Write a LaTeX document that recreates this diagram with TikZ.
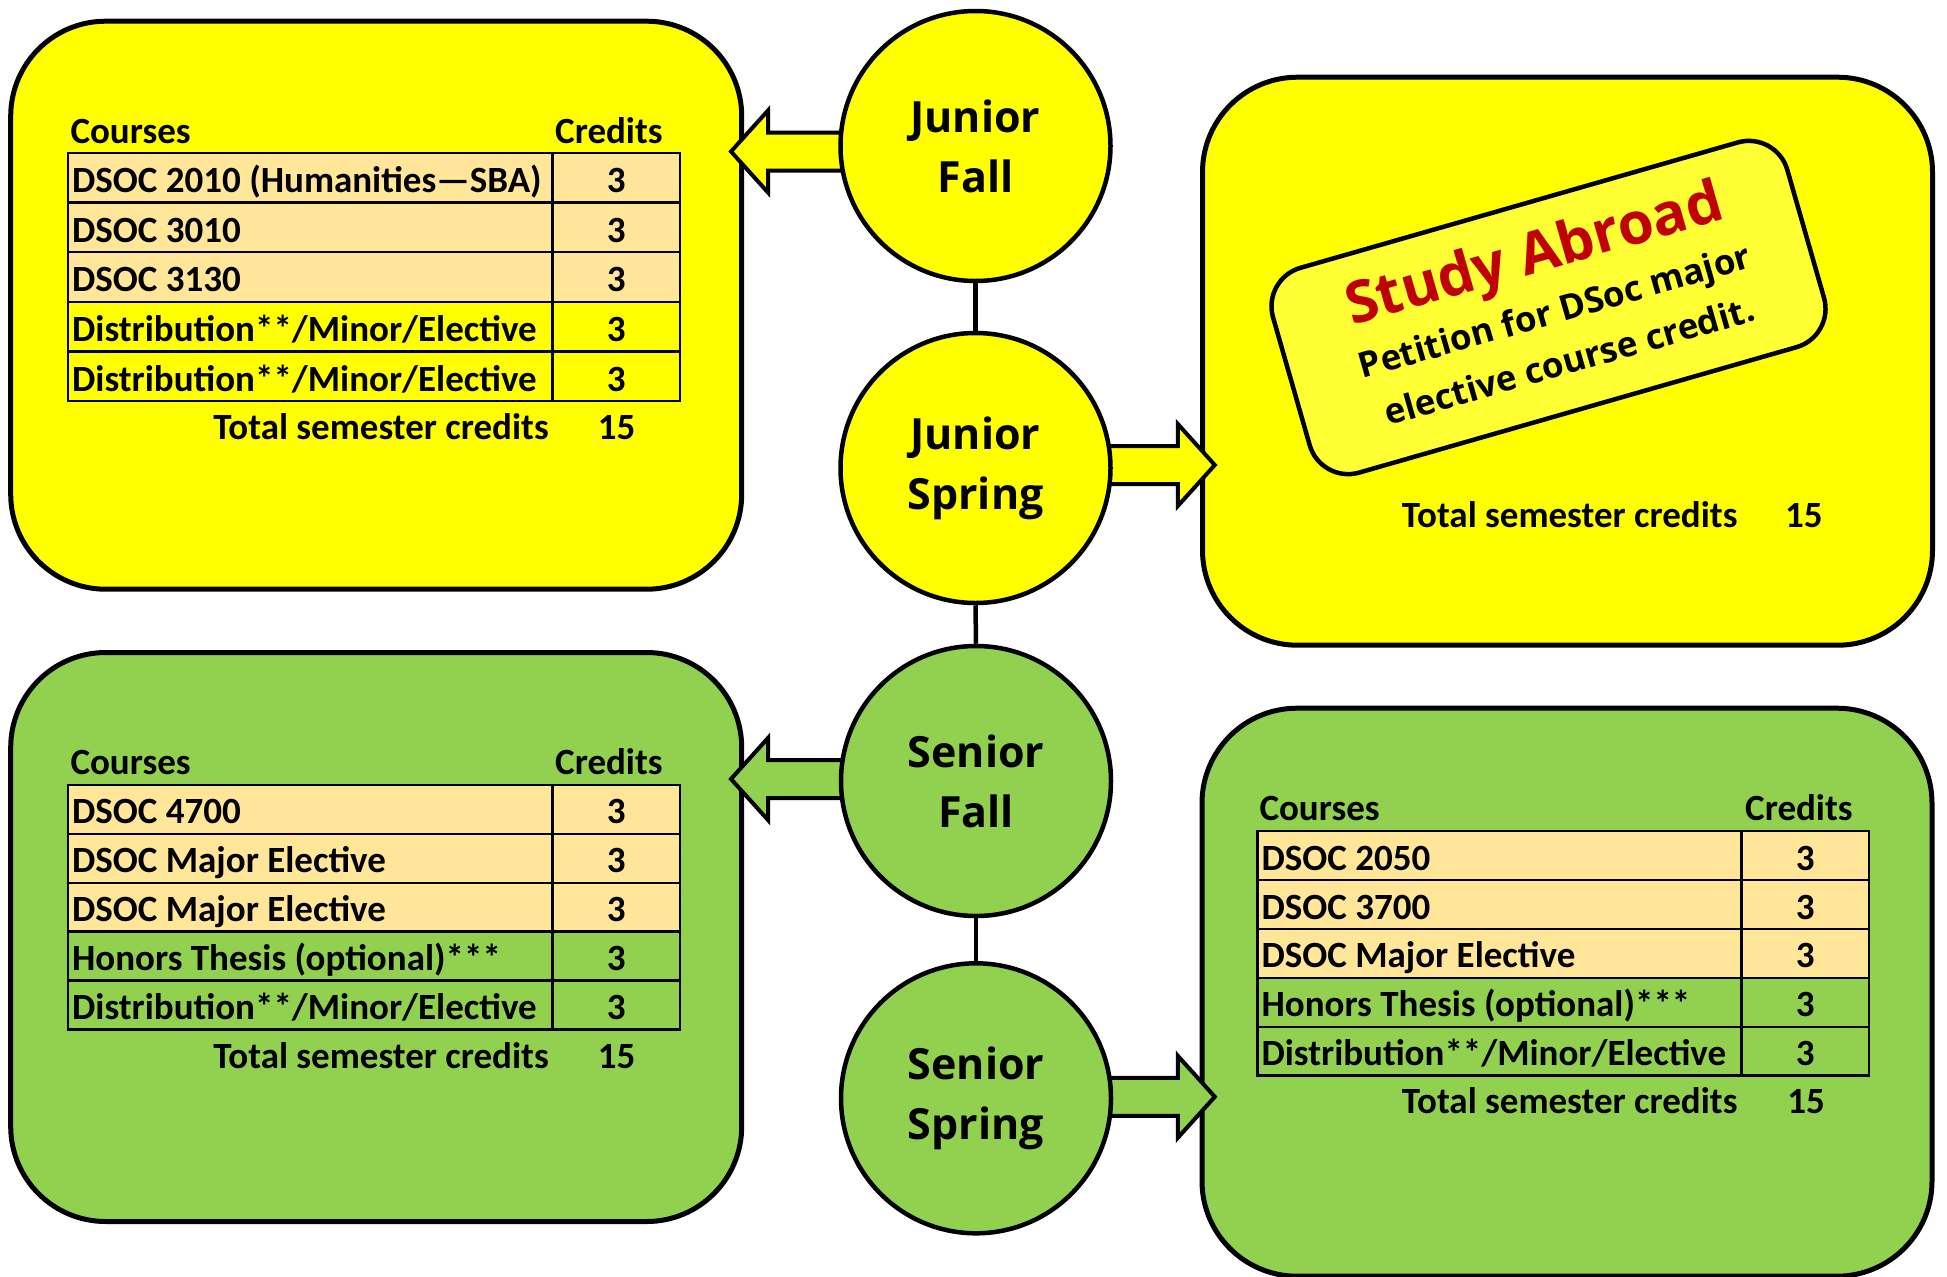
\documentclass[tikz,border=0pt]{standalone}
\usepackage{fontspec}
\newfontfamily\tabfont{Carlito}
\newfontfamily\circfont{Open Sans}
\usetikzlibrary{calc}
\definecolor{yel}{HTML}{FFFF00}
\definecolor{grn}{HTML}{92D050}
\definecolor{peach}{HTML}{FFE699}
\definecolor{sayel}{HTML}{FFFF33}
\definecolor{dred}{HTML}{C00000}
% #1 name, #2 xl, #3 xd, #4 xr, #5 ytop, #6 ybot, #7 fill, #8 text
\newcommand\courserow[8]{%
  \filldraw[tabline, fill=#7] (#2,#5) rectangle (#3,#6);
  \filldraw[tabline, fill=#7] (#3,#5) rectangle (#4,#6);
  \node[tabtext, anchor=base west] (#1c) at (#2+4,#6-10) {#8};
  \node[tabtext, anchor=base] (#1n) at ({(#3+#4)/2},#6-10) {3};
}
\begin{document}
\begin{tikzpicture}[x=1pt,y=-1pt,
  bigbox/.style={draw=black, line width=5pt, rounded corners=95pt, minimum width=730pt, minimum height=568pt, inner sep=0pt},
  sem/.style={circle, draw=black, line width=4.5pt, minimum size=270pt, inner sep=0pt, align=center, font=\circfont\bfseries\fontsize{43}{60}\selectfont},
  link/.style={draw=black, line width=4.5pt},
  blockarrow/.style={draw=black, line width=4pt, line join=miter},
  tabline/.style={draw=black, line width=2.5pt},
  tabtext/.style={inner sep=0pt, font=\tabfont\bfseries\fontsize{37}{44}\selectfont},
  satext/.style={inner sep=0pt, anchor=base, font=\circfont\bfseries\fontsize{35}{40}\selectfont},
]
\useasboundingbox (0,0) rectangle (1947,1277);

% ---- big boxes
\node[bigbox, fill=yel, minimum width=731pt] (jfbox) at (376.2,305.2) {};
\node[bigbox, fill=yel] (jsbox) at (1567.5,361.2) {};
\node[bigbox, fill=grn, minimum width=731pt, minimum height=569pt] (sfbox) at (376.2,937) {};
\node[bigbox, fill=grn] (ssbox) at (1567,992.2) {};

% ---- Junior Fall table
\node[tabtext, anchor=base west] (t1hc) at (70.3,143.5) {Courses};
\node[tabtext, anchor=base west] (t1hr) at (555,143.5) {Credits};
\courserow{t1a}{67.9}{552.6}{680}{153}{202.6}{peach}{DSOC 2010 (Humanities—SBA)}
\courserow{t1b}{67.9}{552.6}{680}{202.6}{252.2}{peach}{DSOC 3010}
\courserow{t1c}{67.9}{552.6}{680}{252.2}{301.8}{peach}{DSOC 3130}
\courserow{t1d}{67.9}{552.6}{680}{301.8}{351.4}{none}{Distribution**/Minor/Elective}
\courserow{t1e}{67.9}{552.6}{680}{351.4}{401}{none}{Distribution**/Minor/Elective}
\node[tabtext, anchor=base east] (t1t) at (549,439.3) {Total semester credits};
\node[tabtext, anchor=base] (t1tn) at (616.6,439.3) {15};

% ---- Junior Spring (study abroad)
\begin{scope}[shift={(1548.5,307.5)}, rotate=16, transform shape]
  \node[draw=black, line width=4.5pt, fill=sayel, rounded corners=40pt, minimum width=535pt, minimum height=213pt, inner sep=0pt] (sa) at (0,0) {};
  \node[inner sep=0pt, anchor=base, text=dred, font=\circfont\bfseries\fontsize{58}{60}\selectfont] (sat) at (1,-36.6) {Study Abroad};
  \node[satext] (sal2) at (5,17.5) {Petition for DSoc major};
  \node[satext] (sal3) at (5,69.6) {elective course credit.};
\end{scope}
\node[tabtext, anchor=base east] (t2t) at (1737.7,527.7) {Total semester credits};
\node[tabtext, anchor=base] (t2tn) at (1803.8,527.7) {15};

% ---- Senior Fall table
\node[tabtext, anchor=base west] (t3hc) at (70.3,774.7) {Courses};
\node[tabtext, anchor=base west] (t3hr) at (555,774.7) {Credits};
\courserow{t3a}{67.9}{552.6}{680}{785}{833.9}{peach}{DSOC 4700}
\courserow{t3b}{67.9}{552.6}{680}{833.9}{882.8}{peach}{DSOC Major Elective}
\courserow{t3c}{67.9}{552.6}{680}{882.8}{931.7}{peach}{DSOC Major Elective}
\courserow{t3d}{67.9}{552.6}{680}{931.7}{980.6}{none}{Honors Thesis (optional)***}
\courserow{t3e}{67.9}{552.6}{680}{980.6}{1029.5}{none}{Distribution**/Minor/Elective}
\node[tabtext, anchor=base east] (t3t) at (549,1068.6) {Total semester credits};
\node[tabtext, anchor=base] (t3tn) at (616.6,1068.6) {15};

% ---- Senior Spring table
\node[tabtext, anchor=base west] (t4hc) at (1259.3,820.5) {Courses};
\node[tabtext, anchor=base west] (t4hr) at (1745,820.5) {Credits};
\courserow{t4a}{1257.3}{1741.6}{1868.8}{831.2}{880.1}{peach}{DSOC 2050}
\courserow{t4b}{1257.3}{1741.6}{1868.8}{880.1}{929}{peach}{DSOC 3700}
\courserow{t4c}{1257.3}{1741.6}{1868.8}{929}{977.9}{peach}{DSOC Major Elective}
\courserow{t4d}{1257.3}{1741.6}{1868.8}{977.9}{1026.8}{none}{Honors Thesis (optional)***}
\courserow{t4e}{1257.3}{1741.6}{1868.8}{1026.8}{1075.7}{none}{Distribution**/Minor/Elective}
\node[tabtext, anchor=base east] (t4t) at (1737.7,1113.3) {Total semester credits};
\node[tabtext, anchor=base] (t4tn) at (1806,1113.3) {15};

% ---- block arrows (tips)
\coordinate (a1) at (731,151.5);
\coordinate (a2) at (1214.8,465);
\coordinate (a3) at (731,779);
\coordinate (a4) at (1214.8,1096.8);
\filldraw[blockarrow, fill=yel] (a1) -- ++(37,-41) -- ++(0,22) -- ++(120,0) -- ++(0,38) -- ++(-120,0) -- ++(0,22) -- cycle;
\filldraw[blockarrow, fill=yel] (a2) -- ++(-37,-41) -- ++(0,22) -- ++(-120,0) -- ++(0,38) -- ++(120,0) -- ++(0,22) -- cycle;
\filldraw[blockarrow, fill=grn] (a3) -- ++(37,-41) -- ++(0,22) -- ++(120,0) -- ++(0,38) -- ++(-120,0) -- ++(0,22) -- cycle;
\filldraw[blockarrow, fill=grn] (a4) -- ++(-37,-41) -- ++(0,22) -- ++(-120,0) -- ++(0,38) -- ++(120,0) -- ++(0,22) -- cycle;

% ---- semester circles
\node[sem, fill=yel] (jf) at (975.5,146) {Junior\\Fall};
\node[sem, fill=yel] (js) at (975.5,468) {Junior\\Spring};
\node[sem, fill=grn] (sf) at (976,781) {Senior\\Fall};
\node[sem, fill=grn] (ss) at (976,1098.3) {Senior\\Spring};
\draw[link] (jf.south) -- (js.north);
\draw[link] (js.south) -- (sf.north);
\draw[link] (sf.south) -- (ss.north);
\end{tikzpicture}
\end{document}
